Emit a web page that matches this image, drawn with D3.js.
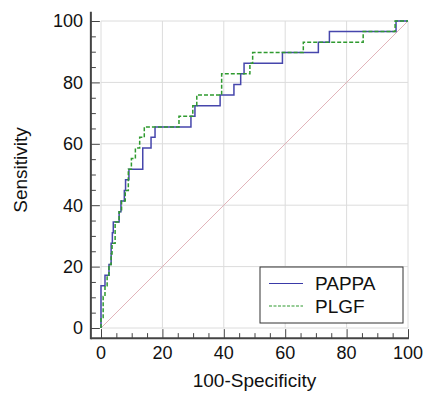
<!DOCTYPE html>
<html>
<head>
<meta charset="utf-8">
<script src="https://cdn.jsdelivr.net/npm/d3@7"></script>
<style>
    body{ margin:0; background:#fff; }
    text{ font-family:"Liberation Sans", Arial, sans-serif; fill:#111; }
</style>
</head>
<body>
<div class="graph"></div>
<script>
// ROC points: x = 100-Specificity, y = Sensitivity (plateau start, level)
var pappaFpr  = [0, 0, 1.3, 2.6, 3.3, 3.7, 4.0, 5.9, 6.5, 7.6, 8.0, 9.1, 13.6, 16.3, 17.6, 29.3, 30.6, 38.8, 43.3, 45.5, 46.6, 59.1, 70.8, 74.4, 96.1, 100];
var pappaSens = [0, 13.8, 17.2, 20.7, 27.6, 31.0, 34.5, 37.9, 41.4, 44.8, 48.3, 51.7, 58.6, 62.1, 65.5, 69.0, 72.4, 75.9, 79.3, 82.8, 86.2, 89.7, 93.1, 96.6, 100, 100];

var plgfFpr  = [0, 0, 0.7, 1.3, 2.0, 2.6, 3.3, 3.6, 4.6, 5.9, 6.7, 7.9, 8.9, 9.9, 11.2, 12.6, 14.1, 25.4, 29.9, 31.2, 39.3, 48.5, 49.4, 65.9, 85.4, 95.8, 100];
var plgfSens = [0, 3.4, 10.3, 13.8, 17.2, 20.7, 24.1, 27.6, 34.5, 37.9, 41.4, 44.8, 51.7, 55.2, 58.6, 62.1, 65.5, 69.0, 72.4, 75.9, 82.8, 86.2, 89.7, 93.1, 96.6, 100, 100];

var seriesNames = ["PAPPA", "PLGF"];
var majorTicks = [0, 20, 40, 60, 80, 100];
var minorTicks = d3.range(0, 101, 5).filter(function(d){ return d % 20 !== 0; });

var width = 427, height = 400;

var svg = d3.select(".graph").append("svg")
    .attr("width", width)
    .attr("height", height);

//Scales
var x = d3.scaleLinear().domain([0, 100]).range([101, 408]);
var y = d3.scaleLinear().domain([0, 100]).range([328, 21]);

//Grid
svg.append("g").selectAll("line")
    .data(majorTicks)
    .enter().append("line")
    .attr("x1", function(d){ return x(d); })
    .attr("x2", function(d){ return x(d); })
    .attr("y1", y(100)).attr("y2", y(0))
    .attr("stroke", "#dcdcdc");

svg.append("g").selectAll("line")
    .data(majorTicks)
    .enter().append("line")
    .attr("x1", x(0)).attr("x2", x(100))
    .attr("y1", function(d){ return y(d); })
    .attr("y2", function(d){ return y(d); })
    .attr("stroke", "#dcdcdc");

//Reference diagonal
svg.append("line")
    .attr("x1", x(0)).attr("y1", y(0))
    .attr("x2", x(100)).attr("y2", y(100))
    .attr("stroke", "#e2b4ba")
    .attr("stroke-width", 1);

//Axes (offset from the data area)
var xAxisY = y(-3.3), yAxisX = x(-3.3);

var xAxis = svg.append("g").attr("transform", "translate(0," + xAxisY + ")");
xAxis.call(d3.axisTop(x).tickValues(majorTicks).tickSize(9).tickFormat(""));
xAxis.append("g").call(d3.axisTop(x).tickValues(minorTicks).tickSize(5).tickFormat(""));
xAxis.selectAll(".domain").remove();
xAxis.selectAll("line").attr("stroke", "#444").attr("stroke-width", 1);
xAxis.append("line")
    .attr("x1", yAxisX).attr("x2", x(100.3))
    .attr("stroke", "#444").attr("stroke-width", 2);

var yAxis = svg.append("g").attr("transform", "translate(" + yAxisX + ",0)");
yAxis.call(d3.axisRight(y).tickValues(majorTicks).tickSize(9).tickFormat(""));
yAxis.append("g").call(d3.axisRight(y).tickValues(minorTicks).tickSize(5).tickFormat(""));
yAxis.selectAll(".domain").remove();
yAxis.selectAll("line").attr("stroke", "#444").attr("stroke-width", 1);
yAxis.append("line")
    .attr("y1", y(103)).attr("y2", xAxisY + 1)
    .attr("stroke", "#444").attr("stroke-width", 2);

//Tick labels
svg.append("g").selectAll("text")
    .data(majorTicks)
    .enter().append("text")
    .attr("x", function(d){ return x(d); })
    .attr("y", 359)
    .attr("text-anchor", "middle")
    .style("font-size", "18px")
    .text(function(d){ return d; });

svg.append("g").selectAll("text")
    .data(majorTicks)
    .enter().append("text")
    .attr("x", 83)
    .attr("y", function(d){ return y(d); })
    .attr("dy", "0.35em")
    .attr("text-anchor", "end")
    .style("font-size", "18px")
    .text(function(d){ return d; });

//Axis titles
svg.append("text")
    .attr("x", x(50))
    .attr("y", 387)
    .attr("text-anchor", "middle")
    .style("font-size", "19px")
    .text("100-Specificity");

svg.append("text")
    .attr("transform", "translate(27," + 170 + ") rotate(-90)")
    .attr("text-anchor", "middle")
    .style("font-size", "19px")
    .text("Sensitivity");

//ROC curves
var line = d3.line()
    .x(function(d){ return x(d[0]); })
    .y(function(d){ return y(d[1]); })
    .curve(d3.curveStepAfter);

var pappa = d3.zip(pappaFpr, pappaSens);
var plgf = d3.zip(plgfFpr, plgfSens);

svg.append("path")
    .datum(pappa)
    .attr("fill", "none")
    .attr("stroke", "#4646ac")
    .attr("stroke-width", 1.5)
    .attr("d", line);

svg.append("path")
    .datum(plgf)
    .attr("fill", "none")
    .attr("stroke", "#2f9a2f")
    .attr("stroke-width", 1.5)
    .attr("stroke-dasharray", "4,2")
    .attr("d", line);

//Legend
var legend = svg.append("g").attr("transform", "translate(260,267)");
legend.append("rect")
    .attr("width", 143).attr("height", 56)
    .attr("fill", "#fff")
    .attr("stroke", "#333")
    .attr("stroke-width", 1);

var colors = ["#3a3aa8", "#2f9a2f"];
var dashes = [null, "3,1.5"];
seriesNames.forEach(function(name, i){
    var ly = 16.5 + i * 22.5;
    legend.append("line")
        .attr("x1", 9).attr("x2", 43)
        .attr("y1", ly).attr("y2", ly)
        .attr("stroke", colors[i])
        .attr("stroke-width", 1.2)
        .attr("stroke-dasharray", dashes[i]);
    legend.append("text")
        .attr("x", 55).attr("y", ly)
        .attr("dy", "0.36em")
        .style("font-size", "19px")
        .text(name);
});
</script>
</body>
</html>
